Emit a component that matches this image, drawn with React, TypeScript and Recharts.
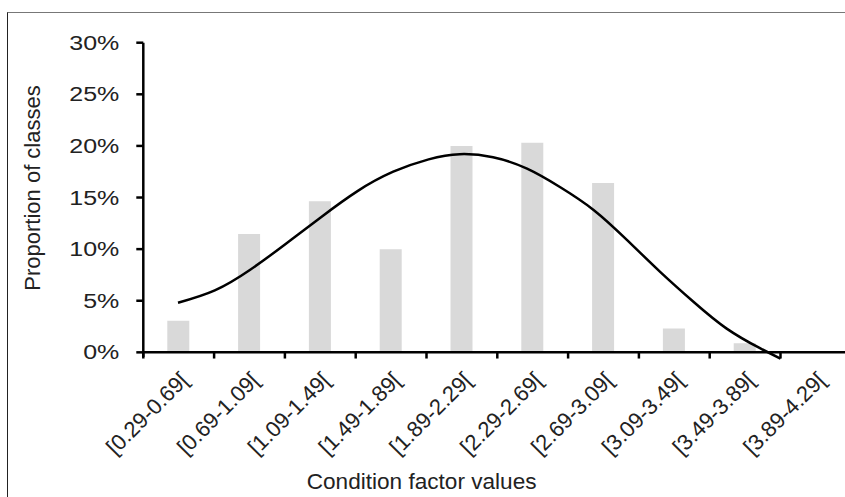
import { ComposedChart, Bar, Line, XAxis, YAxis, ReferenceLine } from 'recharts'

// condition factor classes and the share of fish in each
const classes = [
    '[0.29-0.69[', '[0.69-1.09[', '[1.09-1.49[', '[1.49-1.89[', '[1.89-2.29[',
    '[2.29-2.69[', '[2.69-3.09[', '[3.09-3.49[', '[3.49-3.89[', '[3.89-4.29[',
]
const proportions = [3.06, 11.46, 14.63, 10.0, 20.0, 20.3, 16.4, 2.3, 0.87, 0]

// fitted curve (x in class units, y in %)
const curveX = [0.49, 1.01, 1.51, 2.01, 2.51, 3.02, 3.53, 4.03, 4.47, 4.94, 5.42, 5.89, 6.36, 6.83, 7.3, 7.77, 8.24, 8.71, 9.0]
const curveY = [4.8, 6.0, 8.0, 10.5, 13.1, 15.6, 17.5, 18.7, 19.2, 18.9, 17.8, 16.0, 13.8, 10.9, 7.8, 4.9, 2.3, 0.4, -0.6]

const yTicks = [0, 5, 10, 15, 20, 25, 30]

const barData = classes.map((c, i) => ({ label: c, v: proportions[i] }))
const curveData = curveX.map((x, i) => ({ x, p: curveY[i] }))
const boundaries = classes.map((_, i) => i)

const FONT = '"Liberation Sans", Arial, sans-serif'
const INK = '#222'

const YTick = ({ x, y, payload }: any) => (
    <g transform={`translate(${x},${y}) scale(1.25,1)`}>
        <text x={0} y={0} dy="0.355em" textAnchor="end" fill={INK} fontSize={20} fontFamily={FONT}>
            {payload.value}%
        </text>
    </g>
)

const XTick = ({ x, y, payload }: any) => (
    <g transform={`translate(${x},${y + 10}) rotate(-45)`}>
        <text x={0} y={0} dy="0.71em" textAnchor="end" fill={INK} fontSize={22} fontFamily={FONT}>
            {payload.value}
        </text>
    </g>
)

export default function App() {
    return (
        <div style={{ position: 'absolute', left: 0, top: 0, width: 845, height: 497, overflow: 'hidden', background: '#fff' }}>
            <div
                style={{
                    position: 'absolute', left: 7, top: 12, width: 900, height: 600,
                    borderLeft: '1.5px solid #222', borderTop: '1.5px solid #777',
                }}
            />
            <div style={{ position: 'absolute', left: 0, top: 0 }}>
                <ComposedChart
                    width={900}
                    height={497}
                    data={barData}
                    margin={{ top: 42.7, right: 48.7, left: 83.3, bottom: 36.4 }}
                >
                    <XAxis
                        xAxisId="cat"
                        dataKey="label"
                        axisLine={false}
                        tickLine={false}
                        tickSize={0}
                        tickMargin={0}
                        height={100}
                        interval={0}
                        tick={<XTick />}
                    />
                    <XAxis xAxisId="num" dataKey="x" type="number" domain={[0, 10]} allowDataOverflow hide />
                    <YAxis
                        type="number"
                        domain={[-0.8, 30]}
                        allowDataOverflow
                        ticks={yTicks}
                        width={60}
                        axisLine={false}
                        tickLine={{ stroke: '#000', strokeWidth: 2.5 }}
                        tickSize={7}
                        tickMargin={17}
                        interval={0}
                        tick={<YTick />}
                    />
                    <Bar xAxisId="cat" dataKey="v" fill="#d9d9d9" barSize={22} isAnimationActive={false} />
                    <ReferenceLine xAxisId="num" y={0} stroke="#000" strokeWidth={2.5} />
                    <ReferenceLine xAxisId="num" segment={[{ x: 0, y: -0.45 }, { x: 0, y: 30 }]} stroke="#000" strokeWidth={2.5} />
                    {boundaries.map((b) => (
                        <ReferenceLine key={b} xAxisId="num" segment={[{ x: b, y: 0 }, { x: b, y: -0.6 }]} stroke="#000" strokeWidth={2.5} />
                    ))}
                    <Line
                        xAxisId="num"
                        data={curveData}
                        dataKey="p"
                        type="natural"
                        stroke="#000"
                        strokeWidth={2.5}
                        dot={false}
                        isAnimationActive={false}
                    />
                </ComposedChart>
            </div>
            <div
                style={{
                    position: 'absolute', left: 33.4, top: 187.5,
                    transform: 'translate(-50%, -50%) rotate(-90deg)',
                    whiteSpace: 'nowrap', fontFamily: FONT, fontSize: 22, lineHeight: 1, color: INK,
                }}
            >
                Proportion of classes
            </div>
            <div
                style={{
                    position: 'absolute', left: 306.7, top: 470.8,
                    whiteSpace: 'nowrap', fontFamily: FONT, fontSize: 22.6, lineHeight: 1, color: INK,
                }}
            >
                Condition factor values
            </div>
        </div>
    )
}
